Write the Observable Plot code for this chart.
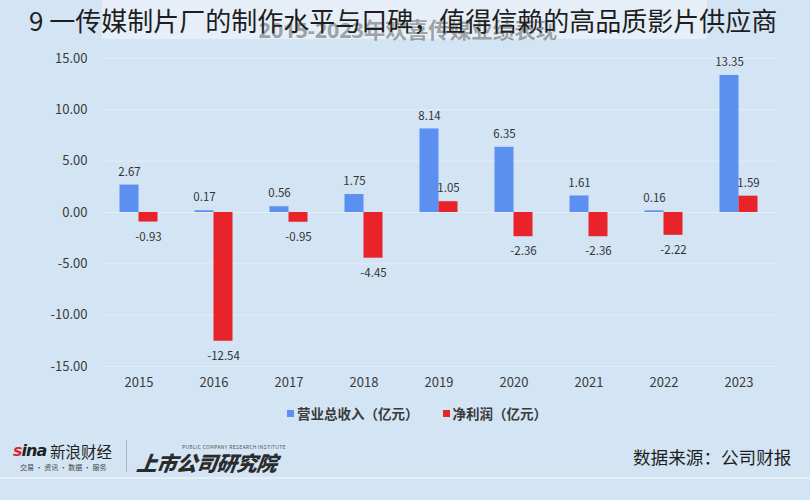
<!DOCTYPE html>
<html><head><meta charset="utf-8">
<script src="https://cdn.jsdelivr.net/npm/d3@7"></script>
<script src="https://cdn.jsdelivr.net/npm/@observablehq/plot@0.6"></script>
<style>
html,body{margin:0;padding:0;background:#d3e5f5;}
#wrap{position:relative;width:810px;height:500px;overflow:hidden;background:#d3e5f5;font-family:"Noto Sans CJK SC","Noto Sans",sans-serif;}
#chart{position:absolute;left:0;top:0;}
.abs{position:absolute;white-space:nowrap;}
</style></head>
<body>
<div id="wrap">
  <div id="chart"></div>
  <div class="abs" style="left:102px;top:0;width:605px;height:39px;background:#e6eff8;"></div>
  <div class="abs" id="ghost" style="left:0;width:816px;text-align:center;top:18px;font-family:'Open Sans','Noto Sans CJK SC',sans-serif;font-size:21.5px;line-height:24px;font-weight:bold;color:rgba(95,95,95,0.55);"></div>
  <div class="abs" id="title" style="left:29px;top:4px;font-size:26px;line-height:32px;color:#1e1e1e;"></div>
  <div class="abs" id="legend" style="left:12px;width:810px;top:402px;display:flex;justify-content:center;gap:24px;font-size:13.5px;font-weight:bold;color:#3a3a3a;line-height:22px;"></div>
  <div class="abs" style="left:13px;top:440px;font-family:'DejaVu Sans',sans-serif;font-style:italic;font-weight:bold;font-size:16px;line-height:22px;color:#222;letter-spacing:-1px;"><span style="color:#d8262c">s</span>ina</div>
  <div class="abs" style="left:50px;top:440px;font-size:15.5px;line-height:22px;color:#222;">新浪财经</div>
  <div class="abs" style="left:20px;top:463px;font-size:7px;line-height:9px;color:#444;">交易 · 资讯 · 数据 · 服务</div>
  <div class="abs" style="left:126px;top:440px;width:1px;height:32px;background:#a9b6c3;"></div>
  <div class="abs" style="left:182px;top:444px;font-size:5px;line-height:6px;color:#555;letter-spacing:0.3px;">PUBLIC COMPANY RESEARCH INSTITUTE</div>
  <div class="abs" style="left:137px;top:449px;font-size:20.5px;line-height:26px;font-weight:900;font-style:italic;color:#2b2b2b;transform:skewX(-8deg);letter-spacing:-0.5px;">上市公司研究院</div>
  <div class="abs" id="source" style="left:633px;top:445px;font-size:17.6px;line-height:24px;color:#1e1e1e;"></div>
  <div class="abs" style="left:0;top:477px;width:810px;height:2px;background:#e7eef5;"></div>
</div>
<script>
const titleText = "9 一传媒制片厂的制作水平与口碑，值得信赖的高品质影片供应商";
const ghostText = "2015-2023年欢喜传媒业绩表现";
const sourceText = "数据来源：公司财报";
const years = ["2015","2016","2017","2018","2019","2020","2021","2022","2023"];
const revenue = [2.67, 0.17, 0.56, 1.75, 8.14, 6.35, 1.61, 0.16, 13.35];
const profit = [-0.93, -12.54, -0.95, -4.45, 1.05, -2.36, -2.36, -2.22, 1.59];
const yTicks = [-15, -10, -5, 0, 5, 10, 15];
const seriesNames = ["营业总收入（亿元）", "净利润（亿元）"];
const seriesColors = ["#5b8ff0", "#e8232a"];

document.getElementById("title").textContent = titleText;
document.getElementById("ghost").textContent = ghostText;
document.getElementById("source").textContent = sourceText;
const legend = document.getElementById("legend");
seriesNames.forEach((n, i) => {
  const item = document.createElement("div");
  item.style.display = "flex"; item.style.alignItems = "center";
  const sw = document.createElement("span");
  sw.style.cssText = `display:inline-block;width:7px;height:7px;background:${seriesColors[i]};margin-right:3px;`;
  item.appendChild(sw);
  item.appendChild(document.createTextNode(n));
  legend.appendChild(item);
});

const revData = years.map((year, i) => ({year, value: revenue[i]}));
const profData = years.map((year, i) => ({year, value: profit[i]}));
const fmt = d => d.toFixed(2);

const chart = Plot.plot({
  width: 810,
  height: 400,
  marginTop: 58,
  marginBottom: 34,
  marginLeft: 101,
  marginRight: 34,
  style: {background: "transparent", fontFamily: "'Noto Sans CJK SC','Noto Sans',sans-serif", fontSize: "13px", color: "#3a3a3a"},
  x: {domain: years, padding: 0, label: null, tickSize: 0, tickPadding: 11},
  y: {domain: [-15, 15], ticks: yTicks, tickFormat: fmt, label: null, tickSize: 0, tickPadding: 14},
  marks: [
    Plot.ruleY(yTicks, {stroke: "#e4ecf5", strokeWidth: 1}),
    Plot.barY(revData, {x: "year", y: "value", fill: seriesColors[0], insetLeft: 18.5, insetRight: 37.5}),
    Plot.barY(profData, {x: "year", y: "value", fill: seriesColors[1], insetLeft: 37.5, insetRight: 18.5}),
    Plot.text(revData.filter(d => d.value >= 0), {x: "year", y: "value", text: d => fmt(d.value), dx: -9.5, dy: -13, fontSize: 11.5, fill: "#333"}),
    Plot.text(profData.filter(d => d.value >= 0), {x: "year", y: "value", text: d => fmt(d.value), dx: 9.5, dy: -13, fontSize: 11.5, fill: "#333"}),
    Plot.text(profData.filter(d => d.value < 0), {x: "year", y: "value", text: d => fmt(d.value), dx: 9.5, dy: 15, fontSize: 11.5, fill: "#333"})
  ]
});
document.getElementById("chart").appendChild(chart);
</script>
</body></html>
